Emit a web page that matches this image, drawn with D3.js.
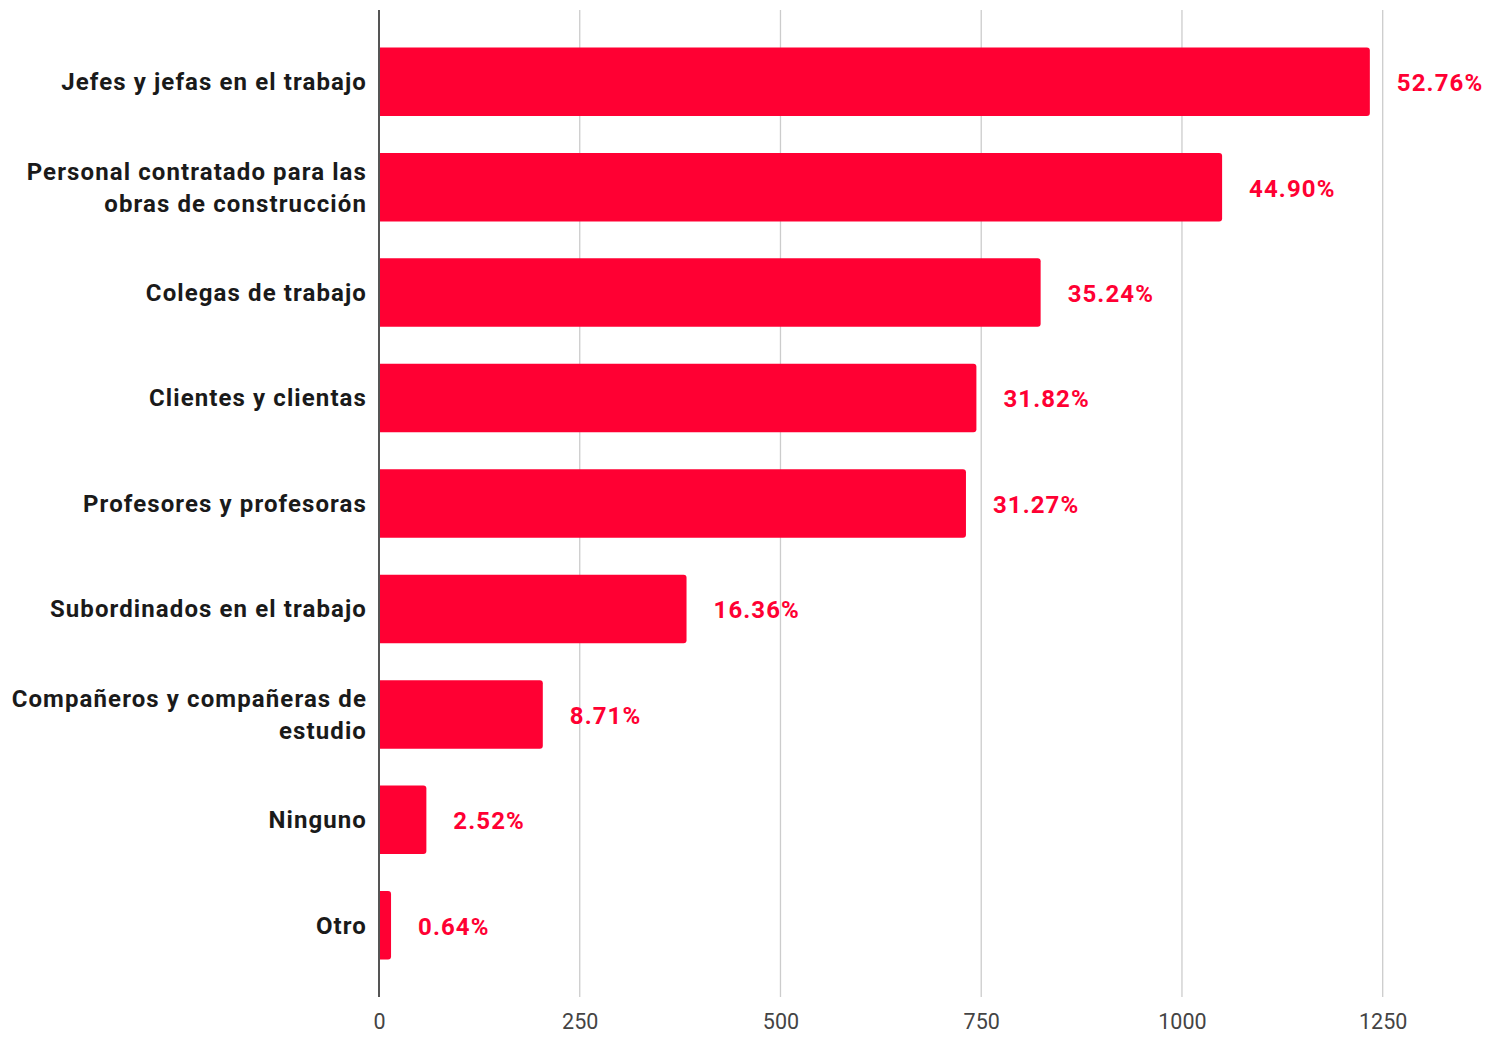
<!DOCTYPE html>
<html><head><meta charset="utf-8">
<script src="https://cdn.jsdelivr.net/npm/d3@7"></script>
<style>body{margin:0;background:#fff}svg{display:block}</style>
</head><body>
<svg id="c" width="1490" height="1041"></svg>
<script>
const categories = [
  ["Jefes y jefas en el trabajo"],
  ["Personal contratado para las","obras de construcción"],
  ["Colegas de trabajo"],
  ["Clientes y clientas"],
  ["Profesores y profesoras"],
  ["Subordinados en el trabajo"],
  ["Compañeros y compañeras de","estudio"],
  ["Ninguno"],
  ["Otro"]
];
const values = [1234, 1050, 824, 744, 731, 383, 204, 59, 15];
const pctLabels = ["52.76%","44.90%","35.24%","31.82%","31.27%","16.36%","8.71%","2.52%","0.64%"];
const ticks = [0, 250, 500, 750, 1000, 1250];

const svg = d3.select("#c");
const red = "#FF0033";
const x = d3.scaleLinear().domain([0, 1250]).range([379, 1382.7]);
const y = d3.scaleBand().domain(d3.range(values.length)).range([10, 997]).paddingInner(0.35).paddingOuter(0.355);

// gridlines
svg.append("g").selectAll("line").data(ticks.slice(1)).join("line")
  .attr("x1", d => x(d)).attr("x2", d => x(d))
  .attr("y1", 10).attr("y2", 997)
  .attr("stroke", "#cccccc").attr("stroke-width", 1.3);

// axis tick labels
const xAxis = d3.axisBottom(x).tickValues(ticks).tickSize(0).tickPadding(0).tickFormat(d3.format("d"));
const ax = svg.append("g").attr("transform", "translate(0,1029)").call(xAxis);
ax.select(".domain").remove();
ax.selectAll("text").attr("font-family", "Roboto").attr("font-size", 21.5).attr("fill", "#444").attr("dy", "0");

// bars with rounded right corners
const r = 3;
svg.append("g").selectAll("path").data(values).join("path")
  .attr("fill", red)
  .attr("d", (d, i) => {
    const x0 = x(0), x1 = x(d), y0 = y(i), h = y.bandwidth();
    const rr = Math.min(r, (x1 - x0) / 2);
    return `M${x0},${y0}H${x1 - rr}Q${x1},${y0} ${x1},${y0 + rr}V${y0 + h - rr}Q${x1},${y0 + h} ${x1 - rr},${y0 + h}H${x0}Z`;
  });

// left axis line
svg.append("line").attr("x1", x(0)).attr("x2", x(0)).attr("y1", 10).attr("y2", 997)
  .attr("stroke", "#555").attr("stroke-width", 2);

// value labels
svg.append("g").selectAll("text").data(values).join("text")
  .attr("x", d => x(d) + 27)
  .attr("y", (d, i) => y(i) + y.bandwidth() / 2 + 1)
  .attr("dy", "0.35em")
  .attr("font-family", "Roboto").attr("font-weight", "bold").attr("font-size", 24)
  .attr("letter-spacing", 1.1)
  .attr("fill", red)
  .text((d, i) => pctLabels[i]);

// category labels
const cg = svg.append("g").selectAll("text").data(categories).join("text")
  .attr("text-anchor", "end")
  .attr("font-family", "Roboto").attr("font-weight", "bold").attr("font-size", 24)
  .attr("letter-spacing", 1.1)
  .attr("fill", "#1a1a1a")
  .attr("y", (d, i) => y(i) + y.bandwidth() / 2);
cg.selectAll("tspan").data(d => d.map((t, j) => ({t, j, n: d.length}))).join("tspan")
  .attr("x", 367)
  .attr("dy", (o) => o.j === 0 ? (0.35 * 24 - (o.n - 1) * 16) + "px" : "32px")
  .text(o => o.t);
</script>
</body></html>
